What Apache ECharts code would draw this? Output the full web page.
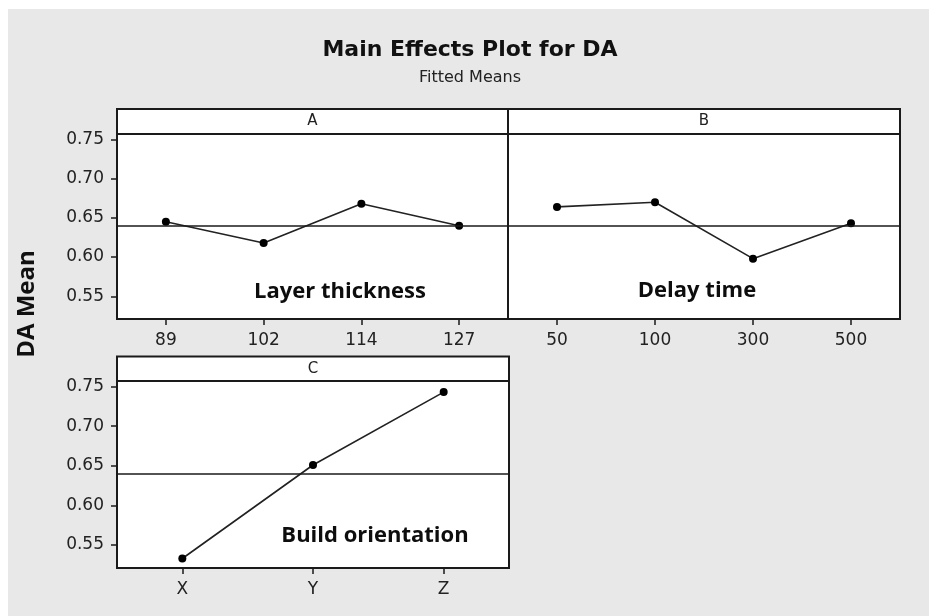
<!DOCTYPE html>
<html>
<head>
<meta charset="utf-8">
<title>Main Effects Plot for DA</title>
<script src="https://cdn.jsdelivr.net/npm/echarts@6/dist/echarts.min.js"></script>
<style>
  html, body { margin: 0; padding: 0; background: #ffffff; }
  #chart { width: 929px; height: 616px; }
</style>
</head>
<body>
<div id="chart"></div>
<script>
// Factor levels
const levelsA = ['89', '102', '114', '127'];
const levelsB = ['50', '100', '300', '500'];
const levelsC = ['X', 'Y', 'Z'];

// Fitted means of DA at each level
const meansA = [0.645, 0.618, 0.668, 0.640];
const meansB = [0.664, 0.670, 0.598, 0.643];
const meansC = [0.533, 0.651, 0.743];

// Overall mean drawn as the horizontal reference line in each panel
const grandMean = 0.643;

// Shared y-axis tick labels
const yTicks = [0.55, 0.60, 0.65, 0.70, 0.75];

const Y_MIN = 0.521, Y_MAX = 0.757;
const INK = '#1a1a1a';
const TICK_FONT = { fontFamily: 'DejaVu Sans', fontSize: 17, color: '#222' };
const LABEL_FONT = 'bold 22px "Open Sans"';

// Panel frames (plot area) and the strip headers above them
const panels = [
  { key: 'A', left: 117, top: 134, width: 391, height: 185, strip: 25, showY: true },
  { key: 'B', left: 508, top: 134, width: 392, height: 185, strip: 25, showY: false },
  { key: 'C', left: 117, top: 381, width: 392, height: 187, strip: 24.5, showY: true }
];
const levels = [levelsA, levelsB, levelsC];
const means = [meansA, meansB, meansC];
const factorNames = ['Layer thickness', 'Delay time', 'Build orientation'];
const factorLabelPos = [[340, 292], [697, 291], [375, 536]];

const chart = echarts.init(document.getElementById('chart'), null, { renderer: 'canvas' });

const grid = panels.map(p => ({
  left: p.left, top: p.top, width: p.width, height: p.height,
  show: true, backgroundColor: '#ffffff',
  borderColor: INK, borderWidth: 2, containLabel: false
}));

const xAxis = panels.map((p, i) => ({
  type: 'category', gridIndex: i, data: levels[i], boundaryGap: true,
  axisLine: { show: false },
  axisTick: { show: true, alignWithLabel: true, length: 6, lineStyle: { color: INK, width: 1.5 } },
  axisLabel: Object.assign({ margin: 13 }, TICK_FONT),
  splitLine: { show: false }
}));

const yAxis = panels.map((p, i) => ({
  type: 'value', gridIndex: i, min: Y_MIN, max: Y_MAX,
  axisLine: { show: false },
  axisTick: { show: p.showY, length: 6, customValues: yTicks, lineStyle: { color: INK, width: 1.5 } },
  axisLabel: Object.assign({
    show: p.showY, margin: 13, customValues: yTicks,
    formatter: v => v.toFixed(2)
  }, TICK_FONT),
  splitLine: { show: false }
}));

const series = panels.map((p, i) => ({
  type: 'line', xAxisIndex: i, yAxisIndex: i, data: means[i],
  symbol: 'circle', symbolSize: 8, showSymbol: true,
  lineStyle: { color: '#222', width: 1.6 },
  itemStyle: { color: '#000' },
  animation: false,
  markLine: {
    silent: true, symbol: 'none', animation: false,
    label: { show: false },
    lineStyle: { color: INK, width: 1.6, type: 'solid' },
    data: [{ yAxis: grandMean }]
  }
}));

const graphic = [
  // grey backdrop of the figure
  { type: 'rect', left: 8, top: 9, z: -10, silent: true,
    shape: { width: 929 - 8, height: 616 - 9 }, style: { fill: '#e8e8e8' } },
  // title and subtitle
  { type: 'text', x: 470, y: 50, silent: true,
    style: { text: 'Main Effects Plot for DA', font: 'bold 22px "DejaVu Sans"', fill: '#111',
             textAlign: 'center', textVerticalAlign: 'middle' } },
  { type: 'text', x: 470, y: 78, silent: true,
    style: { text: 'Fitted Means', font: '16px "DejaVu Sans"', fill: '#222',
             textAlign: 'center', textVerticalAlign: 'middle' } },
  // shared y-axis title
  { type: 'text', x: 27, y: 304, rotation: Math.PI / 2, silent: true,
    style: { text: 'DA Mean', font: 'bold 24px "Open Sans"', fill: '#111',
             textAlign: 'center', textVerticalAlign: 'middle' } }
];

panels.forEach((p, i) => {
  // strip header with the factor letter
  graphic.push({ type: 'rect', silent: true, z: 10,
    shape: { x: p.left, y: p.top - p.strip, width: p.width, height: p.strip },
    style: { fill: '#ffffff', stroke: INK, lineWidth: 2 } });
  graphic.push({ type: 'text', silent: true, z: 11,
    x: p.left + p.width / 2, y: p.top - p.strip / 2,
    style: { text: p.key, font: '15px "DejaVu Sans"', fill: '#222',
             textAlign: 'center', textVerticalAlign: 'middle' } });
  // factor name inside the panel
  graphic.push({ type: 'text', silent: true, z: 11,
    x: factorLabelPos[i][0], y: factorLabelPos[i][1],
    style: { text: factorNames[i], font: LABEL_FONT, fill: '#0d0d0d',
             textAlign: 'center', textVerticalAlign: 'middle' } });
});

chart.setOption({
  backgroundColor: '#ffffff',
  animation: false,
  grid, xAxis, yAxis, series, graphic
});
</script>
</body>
</html>
